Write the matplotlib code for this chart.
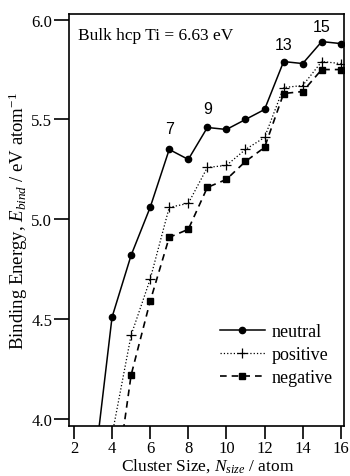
import numpy as np
import matplotlib
matplotlib.use("Agg")
import matplotlib.pyplot as plt

plt.rcParams['font.family'] = ['Liberation Serif', 'DejaVu Serif']
plt.rcParams['mathtext.fontset'] = 'custom'
plt.rcParams['mathtext.rm'] = 'Liberation Serif'
plt.rcParams['mathtext.it'] = 'Liberation Serif:italic'

# cluster sizes and binding energies (eV / atom)
sizes = [3, 4, 5, 6, 7, 8, 9, 10, 11, 12, 13, 14, 15, 16]
neutral = [3.70, 4.51, 4.82, 5.06, 5.35, 5.30, 5.46, 5.45, 5.50, 5.55, 5.79, 5.78, 5.89, 5.88]
positive = [None, 3.92, 4.42, 4.70, 5.06, 5.08, 5.26, 5.27, 5.35, 5.41, 5.66, 5.67, 5.79, 5.78]
negative = [None, 3.54, 4.22, 4.59, 4.91, 4.95, 5.16, 5.20, 5.29, 5.36, 5.63, 5.64, 5.75, 5.75]
magic_sizes = [7, 9, 13, 15]
legend_names = ['neutral', 'positive', 'negative']

fig = plt.figure(figsize=(3.5, 4.77), dpi=100)
ax = fig.add_axes([0.197, 0.1055, 0.786, 0.863])

def clean(xs, ys):
    pts = [(x, y) for x, y in zip(xs, ys) if y is not None]
    return [p[0] for p in pts], [p[1] for p in pts]

x, y = clean(sizes, neutral)
ax.plot(x, y, '-', color='black', lw=1.1, marker='o', ms=4.5, label=legend_names[0])
x, y = clean(sizes, positive)
ax.plot(x, y, ':', color='black', lw=0.9, marker='+', ms=6.5, mew=0.9, label=legend_names[1])
x, y = clean(sizes, negative)
ax.plot(x, y, '--', color='black', lw=1.2, dashes=(4, 3), marker='s', ms=4.5, label=legend_names[2])

# magic number labels above the neutral curve
offsets = [0.105, 0.095, 0.085, 0.075]
for n, off in zip(magic_sizes, offsets):
    e = neutral[sizes.index(n)]
    ax.text(n, e + off, str(n), ha='center', va='center', fontsize=11.5,
            family='Liberation Sans')

ax.text(0.033, 0.968, 'Bulk hcp Ti = 6.63 eV', transform=ax.transAxes,
        ha='left', va='top', fontsize=12.5)

ax.set_xlim(1.74, 16.17)
ax.set_ylim(3.967, 6.028)
ax.set_xticks([2, 4, 6, 8, 10, 12, 14, 16])
ax.set_yticks([4.0, 4.5, 5.0, 5.5, 6.0])
ax.set_yticklabels(['4.0', '4.5', '5.0', '5.5', '6.0'])
ax.tick_params(axis='y', direction='out', length=11, width=1.2, labelsize=12, pad=1)
ax.tick_params(axis='x', direction='out', length=9, width=1.2, labelsize=12, pad=1)
for s in ax.spines.values():
    s.set_linewidth(1.2)

ax.set_xlabel('Cluster Size, $N_{size}$ / atom', fontsize=12.5, va='baseline')
ax.xaxis.set_label_coords(0.504, -0.106)
ax.set_ylabel('Binding Energy, $E_{bind}$ / eV atom$^{-1}$', fontsize=13.5, labelpad=1)

leg = ax.legend(loc='lower right', bbox_to_anchor=(1.0, 0.07), frameon=False,
                fontsize=13, handlelength=2.5, handletextpad=0.4,
                labelspacing=0.33, borderaxespad=0.2)

fig.savefig('out.png', dpi=100)
